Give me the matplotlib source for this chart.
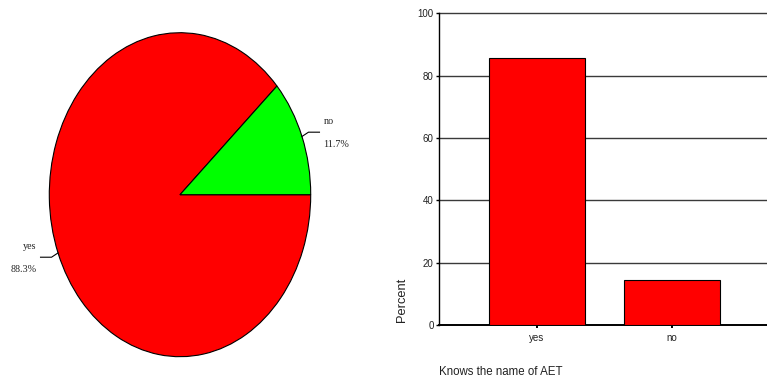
import numpy as np
import matplotlib
matplotlib.use("Agg")
import matplotlib.pyplot as plt

# Pie: share who know the name of AET
pie_labels = ["yes", "no"]
pie_pct = [88.3, 11.7]
pie_colors = ["#ff0000", "#00ff00"]

# Bar chart: percent by answer
bar_labels = ["yes", "no"]
bar_pct = [85.7, 14.3]
y_ticks = [0, 20, 40, 60, 80, 100]

W, H = 767, 379
fig = plt.figure(figsize=(W / 100, H / 100), dpi=100)

# ---------------- pie (stretched vertically into an ellipse) ----------------
cx0, cx1, cy0, cy1 = 49.3, 310.7, 32.7, 356.7
axp = fig.add_axes([cx0 / W, 1 - cy1 / H, (cx1 - cx0) / W, (cy1 - cy0) / H])
start = 360.0 * pie_pct[1] / sum(pie_pct)
wedges, _ = axp.pie(pie_pct, colors=pie_colors, startangle=start,
                    counterclock=True,
                    wedgeprops=dict(edgecolor="black", linewidth=0.8))
axp.set_aspect("auto")
axp.set_xlim(-1, 1)
axp.set_ylim(-1, 1)
axp.axis("off")

rx = 1 / ((cx1 - cx0) / 2)   # data units per pixel
ry = 1 / ((cy1 - cy0) / 2)
serif = dict(family="Liberation Serif", fontsize=7.3, color="#222222")
for w, lab, pct in zip(wedges, pie_labels, pie_pct):
    mid = np.deg2rad((w.theta1 + w.theta2) / 2)
    x0, y0 = np.cos(mid), np.sin(mid)
    s = 1 if x0 > 0 else -1
    x1, y1 = x0 + s * 6.5 * rx, y0 + np.sign(y0) * 4.3 * ry
    x2 = x1 + s * 11 * rx
    axp.plot([x0, x1, x2], [y0, y1, y1], color="black", lw=0.8,
             clip_on=False)
    tx = x2 + s * 4 * rx
    ha = "left" if s > 0 else "right"
    axp.text(tx, y1 + 11 * ry, lab, ha=ha, va="center", clip_on=False, **serif)
    axp.text(tx, y1 - 12.5 * ry, f"{pct:.1f}%", ha=ha, va="center",
             clip_on=False, **serif)

# ---------------- bar chart ----------------
bx0, by0, by1 = 439.3, 13.3, 325.0
axb = fig.add_axes([bx0 / W, 1 - by1 / H, 1 - bx0 / W, (by1 - by0) / H])
x = np.arange(len(bar_labels))
axb.bar(x, bar_pct, width=0.71, color="#ff0000", edgecolor="black",
        linewidth=0.8, zorder=3)
axb.set_xlim(-0.725, 1.707)
axb.set_ylim(0, 100)
axb.set_yticks(y_ticks)
axb.set_xticks(x)
axb.set_xticklabels(bar_labels)
for v in y_ticks[1:]:
    axb.axhline(v, color="#3a3a3a", lw=1.0, zorder=1, clip_on=False)
for side in ("top", "right"):
    axb.spines[side].set_visible(False)
axb.spines["left"].set_linewidth(1.0)
axb.spines["bottom"].set_linewidth(1.4)
axb.tick_params(axis="y", length=2.5, width=1.0, pad=1.5,
                labelsize=7, labelcolor="#222222")
axb.tick_params(axis="x", length=2.5, width=1.4, pad=3,
                labelsize=7, labelcolor="#222222")
for t in axb.get_xticklabels() + axb.get_yticklabels():
    t.set_family("Liberation Sans")

axb.set_ylabel("Percent", family="Liberation Sans", fontsize=9.3,
               color="#222222", va="center")
axb.yaxis.set_label_coords((401.7 - bx0) / (W - bx0),
                           (by1 - 300) / (by1 - by0))
axb.set_xlabel("Knows the name of AET", family="Liberation Sans",
               fontsize=8.3, color="#222222", ha="left", va="center")
axb.xaxis.set_label_coords(0, (by1 - 372) / (by1 - by0))

fig.savefig("out.png", dpi=100)
